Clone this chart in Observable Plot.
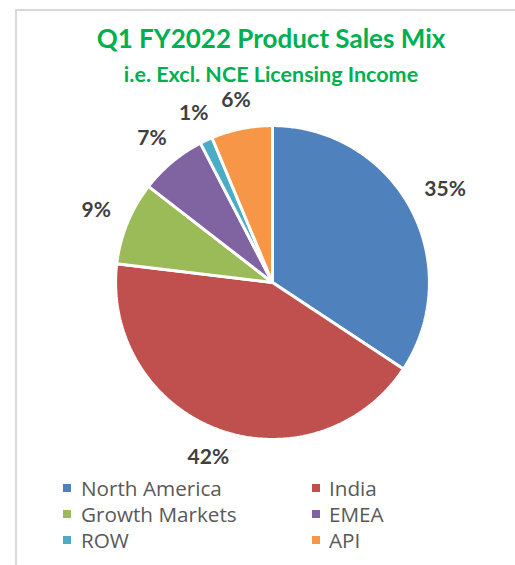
<!DOCTYPE html>
<html><head><meta charset="utf-8">
<script src="https://cdn.jsdelivr.net/npm/d3@7"></script>
<script src="https://cdn.jsdelivr.net/npm/@observablehq/plot@0.6"></script>
<style>
html,body{margin:0;padding:0;background:#fff;width:515px;height:565px;overflow:hidden;position:relative}
#frame{position:absolute;left:15px;top:9px;width:600px;height:600px;border:2px solid #d9d9d9;box-sizing:border-box}
#title{position:absolute;left:0;width:542px;top:25px;text-align:center;font:bold 26px Lato;line-height:1;color:#00B050;white-space:nowrap}
#subtitle{position:absolute;left:0;width:542px;top:64px;text-align:center;font:bold 21.5px Lato;line-height:1;color:#00B050;white-space:nowrap}
#chart{position:absolute;left:0;top:75px}
#chart svg{background:transparent !important}
.lg{position:absolute;font:20.7px "Open Sans";line-height:1;color:#595959;white-space:nowrap}
.sw{position:absolute;width:8px;height:8px}
</style></head>
<body>
<div id="frame"></div>
<div id="chart"></div>
<div id="title">Q1 FY2022 Product Sales Mix</div>
<div id="subtitle">i.e. Excl. NCE Licensing Income</div>
<div id="legend"></div>
<script>
// Slice sizes; labels as printed.
const categories = ["North America", "India", "Growth Markets", "EMEA", "ROW", "API"];
const shares = [34.3, 42.6, 8.6, 6.9, 1.3, 6.3];
const labels = ["35%", "42%", "9%", "7%", "1%", "6%"];
const colors = ["#4F81BD", "#C0504D", "#9BBB59", "#8064A2", "#4BACC6", "#F79646"];

const R = 157; // pie radius in pixels (used only for label offsets)
const data = categories.map((c, i) => ({category: c, value: shares[i], label: labels[i]}));
const arcs = d3.pie().sort(null).value(d => d.value)(data);

function wedge(a) {
  const pts = [[0, 0]];
  const n = Math.max(2, Math.ceil((a.endAngle - a.startAngle) / 0.01));
  for (let k = 0; k <= n; k++) {
    const t = a.startAngle + (a.endAngle - a.startAngle) * k / n;
    pts.push([Math.sin(t), Math.cos(t)]);
  }
  pts.push([0, 0]);
  return {type: "Feature", properties: {category: a.data.category}, geometry: {type: "Polygon", coordinates: [pts]}};
}
const slices = arcs.map(wedge);
// outside-end label placement: label box kept a fixed gap away from the arc
const labelPts = arcs.map(a => {
  const m = (a.startAngle + a.endAngle) / 2;
  const s = Math.abs(Math.sin(m)), c = Math.abs(Math.cos(m));
  const hw = a.data.label.length * 6.8, hh = 9.5;
  const ext = Math.min(s > 1e-6 ? hw / s : Infinity, c > 1e-6 ? hh / c : Infinity);
  const d = (R + 19 + ext) / R;
  return {x: Math.sin(m) * d, y: Math.cos(m) * d, label: a.data.label};
});

const chart = Plot.plot({
  width: 515,
  height: 420,
  marginLeft: 68,
  marginRight: 39,
  marginTop: 3,
  marginBottom: 9,
  style: {background: "transparent"},
  projection: {type: "reflect-y", domain: {type: "MultiPoint", coordinates: [[-1.3, -1.3], [1.3, 1.3]]}},
  color: {domain: categories, range: colors},
  marks: [
    Plot.geo(slices, {fill: d => d.properties.category, stroke: "white", strokeWidth: 3, strokeLinejoin: "miter"}),
    Plot.text(labelPts, {x: "x", y: "y", text: "label", fontSize: 21, fontWeight: "bold", fill: "#404040", fontFamily: "Lato"})
  ]
});
document.getElementById("chart").appendChild(chart);

const legend = document.getElementById("legend");
categories.forEach((c, i) => {
  const col = i % 2, row = Math.floor(i / 2);
  const sw = document.createElement("div");
  sw.className = "sw";
  sw.style.background = colors[i];
  sw.style.left = (col ? 312 : 63) + "px";
  sw.style.top = (484 + row * 26) + "px";
  legend.appendChild(sw);
  const t = document.createElement("div");
  t.className = "lg";
  t.textContent = c;
  t.style.left = (col ? 329 : 81) + "px";
  t.style.top = (478 + row * 26) + "px";
  legend.appendChild(t);
});
</script>
</body></html>
